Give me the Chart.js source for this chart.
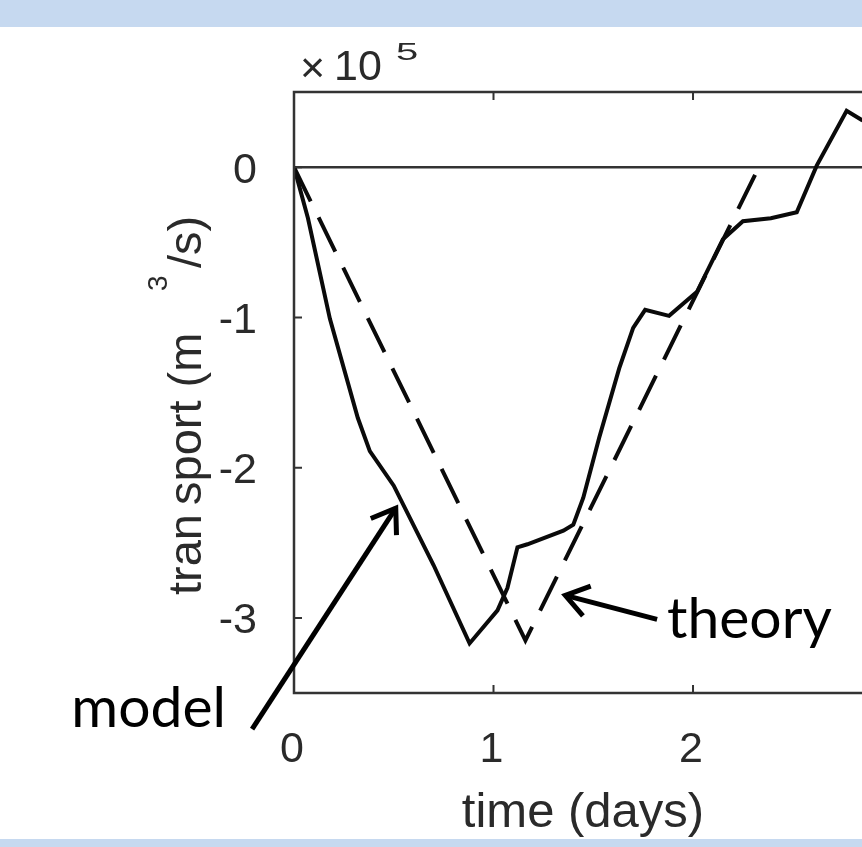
<!DOCTYPE html>
<html>
<head>
<meta charset="utf-8">
<script src="https://cdn.jsdelivr.net/npm/chart.js@4/dist/chart.umd.min.js"></script>
<style>
  html, body { margin: 0; padding: 0; background: #fff; overflow: hidden; }
  #wrap { position: relative; width: 862px; height: 847px; }
  #wrap canvas { position: absolute; left: 0; top: 0; }
  .band { position: absolute; left: 0; width: 862px; background: #c6d9f0; }
</style>
</head>
<body>
<div id="wrap">
  <canvas id="chart" width="862" height="847"></canvas>
  <div class="band" style="top:0;height:27px"></div>
  <div class="band" style="top:839px;height:8px"></div>
</div>
<script>
// Transport through the section, in units of 1e5 m^3/s, against time in days.
const modelDays = [0, 0.07, 0.18, 0.32, 0.38, 0.50, 0.70, 0.88, 1.02, 1.07, 1.12, 1.17, 1.35, 1.40, 1.45, 1.53, 1.63, 1.70, 1.76, 1.88, 2.02, 2.15, 2.25, 2.39, 2.52, 2.62, 2.77, 2.85];
const modelTransport = [0, -0.34, -1.01, -1.67, -1.89, -2.12, -2.65, -3.17, -2.95, -2.80, -2.53, -2.51, -2.42, -2.38, -2.20, -1.80, -1.34, -1.07, -0.95, -0.99, -0.83, -0.48, -0.36, -0.34, -0.30, 0.01, 0.375, 0.31];

const theoryDays = [0, 1.16, 2.33];
const theoryTransport = [0, -3.15, 0];

const xTicks = [0, 1, 2];
const yTicks = [0, -1, -2, -3];
const xRange = [0, 2.847];
const yRange = [-3.5, 0.5];

const xTitle = 'time (days)';
const yTitleParts = ['tran', 'sport (m', '3', '/s)'];
const exponentText = ['\u00d7', '10', '5'];
const modelLabel = 'model';
const theoryLabel = 'theory';

// arrow anchors in data units: [tail day, tail transport, tip day, tip transport]
const modelArrow = [-0.21, -3.74, 0.51, -2.27];
const theoryArrow = [1.82, -3.01, 1.36, -2.85];

const toPoints = (xs, ys) => xs.map((x, i) => ({ x: x, y: ys[i] }));

const INK = '#2a2a2a';
const TICK_FONT = '43px "Liberation Sans", Arial, sans-serif';
const TITLE_FONT = '47px "Liberation Sans", Arial, sans-serif';
const XTITLE_FONT = '49px "Liberation Sans", Arial, sans-serif';
const NOTE_FONT = '57px Lato, "Open Sans", sans-serif';

function drawArrow(ctx, x0, y0, x1, y1) {
  const ang = Math.atan2(y1 - y0, x1 - x0);
  const len = 27, spread = Math.PI / 5.2;
  ctx.save();
  ctx.strokeStyle = '#000';
  ctx.lineWidth = 5;
  ctx.lineCap = 'butt';
  ctx.lineJoin = 'miter';
  ctx.beginPath();
  ctx.moveTo(x0, y0);
  ctx.lineTo(x1, y1);
  ctx.stroke();
  ctx.beginPath();
  ctx.moveTo(x1 - len * Math.cos(ang - spread), y1 - len * Math.sin(ang - spread));
  ctx.lineTo(x1, y1);
  ctx.lineTo(x1 - len * Math.cos(ang + spread), y1 - len * Math.sin(ang + spread));
  ctx.stroke();
  ctx.restore();
}

const framePlugin = {
  id: 'frame',
  beforeDatasetsDraw(chart) {
    const { ctx, chartArea: a, scales: { y } } = chart;
    const y0 = y.getPixelForValue(0);
    ctx.save();
    ctx.strokeStyle = '#333';
    ctx.lineWidth = 2.5;
    ctx.beginPath();
    ctx.moveTo(a.left, y0);
    ctx.lineTo(a.right, y0);
    ctx.stroke();
    ctx.restore();
  },
  afterDraw(chart) {
    const { ctx, chartArea: a, scales: { x, y } } = chart;
    ctx.save();
    // axes box (the right side lies outside the view)
    ctx.strokeStyle = '#333';
    ctx.lineWidth = 2.5;
    ctx.beginPath();
    ctx.moveTo(a.right + 2, a.top);
    ctx.lineTo(a.left, a.top);
    ctx.lineTo(a.left, a.bottom);
    ctx.lineTo(a.right + 2, a.bottom);
    ctx.stroke();

    // inward tick marks
    ctx.lineWidth = 2;
    ctx.beginPath();
    x.ticks.forEach(t => {
      const px = x.getPixelForValue(t.value);
      if (t.value === 0) return;
      ctx.moveTo(px, a.bottom); ctx.lineTo(px, a.bottom - 8);
      ctx.moveTo(px, a.top); ctx.lineTo(px, a.top + 8);
    });
    y.ticks.forEach(t => {
      const py = y.getPixelForValue(t.value);
      ctx.moveTo(a.left, py); ctx.lineTo(a.left + 8, py);
    });
    ctx.stroke();

    // tick labels
    ctx.fillStyle = INK;
    ctx.font = TICK_FONT;
    ctx.textBaseline = 'alphabetic';
    ctx.textAlign = 'right';
    y.ticks.forEach(t => {
      const py = y.getPixelForValue(t.value);
      ctx.fillText(String(t.value), a.left - 37, py + 15.5);
    });
    ctx.textAlign = 'center';
    x.ticks.forEach(t => {
      const px = x.getPixelForValue(t.value);
      ctx.fillText(String(t.value), px - 2, a.bottom + 69);
    });

    // exponent above the y axis
    ctx.textAlign = 'left';
    ctx.fillText(exponentText[0], a.left + 6, a.top - 10);
    ctx.fillText(exponentText[1], a.left + 40, a.top - 12);
    ctx.save();
    ctx.translate(a.left + 102, a.top - 32);
    ctx.scale(1, 0.6);
    ctx.font = '40px "Liberation Sans", Arial, sans-serif';
    ctx.fillText(exponentText[2], 0, 0);
    ctx.restore();

    // x axis title
    ctx.font = XTITLE_FONT;
    ctx.textAlign = 'center';
    ctx.fillText(xTitle, 583, a.bottom + 134);

    // y axis title, rotated
    ctx.save();
    ctx.translate(201, 0);
    ctx.rotate(-Math.PI / 2);
    ctx.textAlign = 'left';
    ctx.font = TITLE_FONT;
    ctx.fillText(yTitleParts[0], -595, 0);
    ctx.fillText(yTitleParts[1], -505, 0);
    ctx.fillText(yTitleParts[3], -268, 0);
    ctx.font = '28px "Liberation Sans", Arial, sans-serif';
    ctx.fillText(yTitleParts[2], -291, -34);
    ctx.restore();

    // annotations
    ctx.fillStyle = '#000';
    ctx.font = NOTE_FONT;
    ctx.textAlign = 'left';
    ctx.fillText(theoryLabel, 667, 638);
    ctx.textAlign = 'right';
    ctx.fillText(modelLabel, 226, 727);
    ctx.restore();

    drawArrow(ctx,
      x.getPixelForValue(modelArrow[0]), y.getPixelForValue(modelArrow[1]),
      x.getPixelForValue(modelArrow[2]), y.getPixelForValue(modelArrow[3]));
    drawArrow(ctx,
      x.getPixelForValue(theoryArrow[0]), y.getPixelForValue(theoryArrow[1]),
      x.getPixelForValue(theoryArrow[2]), y.getPixelForValue(theoryArrow[3]));
  }
};

new Chart(document.getElementById('chart'), {
  type: 'line',
  data: {
    datasets: [
      {
        label: modelLabel,
        data: toPoints(modelDays, modelTransport),
        borderColor: '#0a0a0a',
        borderWidth: 4,
        pointRadius: 0,
        tension: 0
      },
      {
        label: theoryLabel,
        data: toPoints(theoryDays, theoryTransport),
        borderColor: '#0a0a0a',
        borderWidth: 4,
        borderDash: [38, 18],
        pointRadius: 0,
        tension: 0
      }
    ]
  },
  options: {
    responsive: false,
    animation: false,
    devicePixelRatio: 1,
    layout: { padding: { top: 92, left: 0, right: 0, bottom: 0 } },
    plugins: { legend: { display: false }, tooltip: { enabled: false } },
    scales: {
      x: {
        type: 'linear',
        min: xRange[0],
        max: xRange[1],
        grid: { display: false },
        border: { display: false },
        ticks: { display: false },
        afterBuildTicks: s => { s.ticks = xTicks.map(v => ({ value: v })); },
        afterFit: s => { s.height = 154; }
      },
      y: {
        type: 'linear',
        min: yRange[0],
        max: yRange[1],
        grid: { display: false },
        border: { display: false },
        ticks: { display: false },
        afterBuildTicks: s => { s.ticks = yTicks.map(v => ({ value: v })); },
        afterFit: s => { s.width = 294; }
      }
    }
  },
  plugins: [framePlugin]
});
</script>
</body>
</html>
